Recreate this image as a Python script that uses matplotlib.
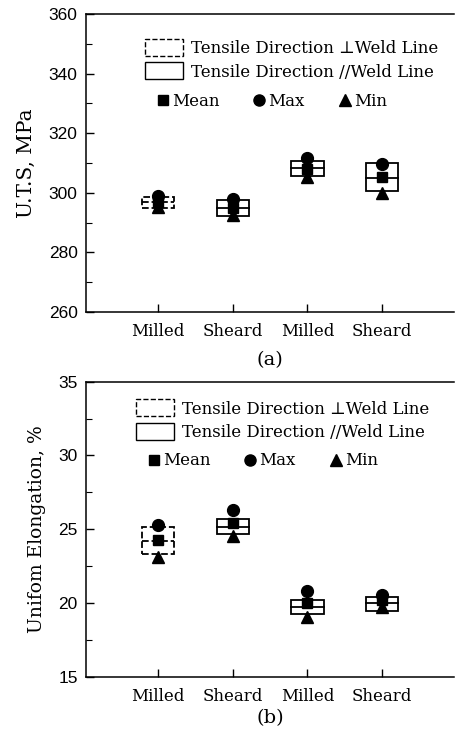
import matplotlib
matplotlib.use("Agg")
import matplotlib.pyplot as plt
from matplotlib.patches import Patch
from matplotlib.lines import Line2D
from matplotlib.ticker import MultipleLocator

plt.rcParams['font.family'] = ['DejaVu Serif', 'DejaVu Sans']

categories = ['Milled', 'Sheard', 'Milled', 'Sheard']
direction = ['perp', 'par', 'par', 'par']

# U.T.S (MPa)
uts_box_lo = [295.0, 292.2, 305.6, 300.7]
uts_box_hi = [298.6, 297.5, 310.8, 309.9]
uts_box_med = [296.8, 294.8, 308.2, 305.1]
uts_mean = [296.8, 294.8, 308.0, 305.4]
uts_max = [298.8, 298.0, 311.8, 309.7]
uts_min = [295.2, 292.4, 305.2, 299.8]

# Uniform elongation (%)
el_box_lo = [23.3, 24.67, 19.23, 19.45]
el_box_hi = [25.13, 25.67, 20.2, 20.42]
el_box_med = [24.2, 25.17, 19.75, 19.98]
el_mean = [24.27, 25.4, 19.98, 20.2]
el_max = [25.28, 26.3, 20.83, 20.54]
el_min = [23.1, 24.55, 19.07, 19.75]

TICKFONT = ['Liberation Sans', 'DejaVu Sans']


def panel(ax, lo, hi, med, mean, vmax, vmin, ylim, major, ylabel, ylsize,
          leg_xy, mk_xy):
    x = list(range(1, len(categories) + 1))
    for xi, a, b, m, d in zip(x, lo, hi, med, direction):
        ls = '--' if d == 'perp' else '-'
        ax.bar(xi, b - a, bottom=a, width=0.43, fill=False, edgecolor='black',
               linewidth=1.3, linestyle=ls, zorder=2)
        ax.plot([xi - 0.215, xi + 0.215], [m, m], color='black', lw=1.3,
                linestyle=ls, zorder=2)
    ax.plot(x, vmax, 'o', color='black', ms=8.5, zorder=3)
    ax.plot(x, vmin, '^', color='black', ms=9, zorder=3)
    ax.plot(x, mean, 's', color='black', ms=7.5, zorder=4)

    ax.set_xlim(0.04, 4.96)
    ax.set_ylim(*ylim)
    ax.set_xticks(x)
    ax.set_xticklabels(categories, fontsize=12)
    ax.yaxis.set_major_locator(MultipleLocator(major))
    ax.yaxis.set_minor_locator(MultipleLocator(major / 2))
    ax.tick_params(axis='both', which='major', direction='in', length=6, width=1)
    ax.tick_params(axis='y', which='minor', direction='in', length=4, width=0.8)
    ax.tick_params(axis='x', pad=8)
    ax.tick_params(axis='y', pad=6)
    for lab in ax.get_yticklabels():
        lab.set_family(TICKFONT)
        lab.set_fontsize(12.5)
    ax.spines['right'].set_visible(False)
    for s in ('left', 'top', 'bottom'):
        ax.spines[s].set_linewidth(1.1)
    ax.set_ylabel(ylabel, fontsize=ylsize, labelpad=9)

    box_handles = [Patch(facecolor='white', edgecolor='black', linestyle='--', lw=1),
                   Patch(facecolor='white', edgecolor='black', linestyle='-', lw=1)]
    leg1 = ax.legend(box_handles,
                     ['Tensile Direction \u22a5Weld Line', 'Tensile Direction //Weld Line'],
                     loc='upper left', bbox_to_anchor=leg_xy, frameon=False,
                     fontsize=12, handlelength=2.3, handleheight=1.2,
                     handletextpad=0.45, labelspacing=0.3, borderpad=0, borderaxespad=0)
    ax.add_artist(leg1)
    mk_handles = [Line2D([], [], marker='s', ls='none', color='black', ms=7),
                  Line2D([], [], marker='o', ls='none', color='black', ms=8),
                  Line2D([], [], marker='^', ls='none', color='black', ms=8)]
    ax.legend(mk_handles, ['Mean', 'Max', 'Min'], loc='upper left',
              bbox_to_anchor=mk_xy, frameon=False, ncol=3, fontsize=12,
              handlelength=0.6, handletextpad=0.25, columnspacing=2.1,
              borderpad=0, borderaxespad=0)


fig = plt.figure(figsize=(4.55, 7.36), dpi=100)
ax1 = fig.add_axes([0.189, 0.5761, 0.809, 0.405])
ax2 = fig.add_axes([0.189, 0.0806, 0.809, 0.4008])

panel(ax1, uts_box_lo, uts_box_hi, uts_box_med, uts_mean, uts_max, uts_min,
      (260, 360), 20, 'U.T.S, MPa', 14.5, (0.16, 0.915), (0.195, 0.735))
panel(ax2, el_box_lo, el_box_hi, el_box_med, el_mean, el_max, el_min,
      (15, 35), 5, 'Unifom Elongation, %', 13.5, (0.135, 0.94), (0.17, 0.76))

fig.text(0.593, 1 - 360 / 736, '(a)', ha='center', va='center', fontsize=14)
fig.text(0.593, 1 - 718 / 736, '(b)', ha='center', va='center', fontsize=14)

fig.savefig('out.png', dpi=100)
